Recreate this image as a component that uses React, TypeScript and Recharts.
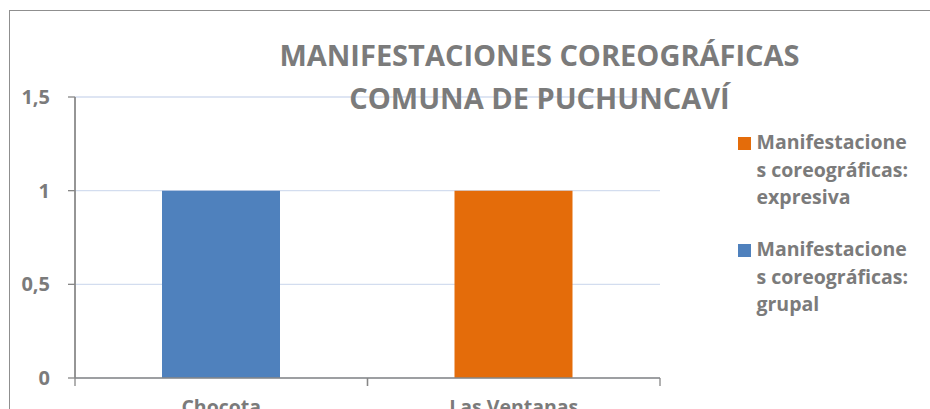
import React from 'react';
import { BarChart, Bar, XAxis, YAxis, CartesianGrid } from 'recharts';

const categories = ['Chocota', 'Las Ventanas'];
const grupal = [1, 0];
const expresiva = [0, 1];
const yTicks = [0, 0.5, 1, 1.5];
const titleLines = ['MANIFESTACIONES COREOGRÁFICAS', 'COMUNA DE PUCHUNCAVÍ'];
const legendItems = [
  { label: ['Manifestacione', 's coreográficas:', 'expresiva'], color: '#e46c0a' },
  { label: ['Manifestacione', 's coreográficas:', 'grupal'], color: '#4f81bd' },
];

const data = categories.map((name, i) => ({
  name,
  grupal: grupal[i],
  expresiva: expresiva[i],
}));

const TEXT = '#7b7b7b';
const AXIS = '#878787';
const FONT = "'Open Sans', sans-serif";

// label in the middle of the band, tick marks on the band edges (Excel style)
const BottomTick = (props: any) => {
  const { x, y, payload, width, visibleTicksCount } = props;
  const half = width / (2 * (visibleTicksCount || categories.length));
  return (
    <g>
      <line x1={x - half} y1={y} x2={x - half} y2={y + 8} stroke={AXIS} strokeWidth={1.3} />
      <line x1={x + half} y1={y} x2={x + half} y2={y + 8} stroke={AXIS} strokeWidth={1.3} />
      <text x={x} y={y + 36} textAnchor="middle" fill={TEXT} fontSize={19.5} fontWeight={700} fontFamily={FONT}>
        {payload.value}
      </text>
    </g>
  );
};

export default function App() {
  return (
    <div
      style={{
        position: 'absolute',
        left: 9,
        top: 10,
        width: 921,
        height: 399,
        overflow: 'hidden',
        borderTop: '1.5px solid #8f8f8f',
        borderLeft: '1.5px solid #8f8f8f',
        background: '#fff',
        fontFamily: FONT,
      }}
    >
      <style>{'html,body{margin:0;overflow:hidden;background:#fff}'}</style>
      <BarChart
        width={921}
        height={440}
        data={data}
        margin={{ top: 86, right: 271, left: 0, bottom: 33 }}
      >
        <CartesianGrid vertical={false} stroke="#d3ddef" strokeWidth={1.3} />
        {/* value axis line on the left edge of the plot */}
        <CartesianGrid
          horizontal={false}
          stroke={AXIS}
          strokeWidth={1.3}
          verticalCoordinatesGenerator={({ offset }: any) => [offset.left]}
        />
        <XAxis
          dataKey="name"
          type="category"
          interval={0}
          tickLine={false}
          tickSize={0}
          tickMargin={0}
          height={40}
          axisLine={{ stroke: AXIS, strokeWidth: 1.3 }}
          tick={<BottomTick />}
        />
        <YAxis
          domain={[0, 1.5]}
          ticks={yTicks}
          interval={0}
          width={65}
          tickSize={7}
          tickMargin={18}
          axisLine={{ stroke: AXIS, strokeWidth: 1.3 }}
          tickLine={{ stroke: AXIS, strokeWidth: 1.3 }}
          tick={{ fill: TEXT, fontSize: 20, fontWeight: 700, fontFamily: FONT }}
          tickFormatter={(v: number) => String(v).replace('.', ',')}
        />
        <Bar dataKey="grupal" stackId="a" fill="#4f81bd" barSize={118} isAnimationActive={false} />
        <Bar dataKey="expresiva" stackId="a" fill="#e46c0a" barSize={118} isAnimationActive={false} />
      </BarChart>
      <div
        style={{
          position: 'absolute',
          left: 229.5,
          top: 21.75,
          width: 600,
          textAlign: 'center',
          color: TEXT,
          fontSize: 29,
          fontWeight: 700,
          lineHeight: '43px',
          whiteSpace: 'nowrap',
        }}
      >
        {titleLines.map((t) => (
          <div key={t}>{t}</div>
        ))}
      </div>
      <div style={{ position: 'absolute', left: 727.5, top: 117.2 }}>
        {legendItems.map((item) => (
          <div key={item.label.join('')} style={{ display: 'flex', marginBottom: 24.5 }}>
            <div style={{ width: 13, height: 13, background: item.color, marginTop: 9.3, marginRight: 6, flexShrink: 0 }} />
            <div style={{ color: TEXT, fontSize: 19.5, fontWeight: 700, lineHeight: '27.5px', whiteSpace: 'nowrap' }}>
              {item.label.map((l) => (
                <div key={l}>{l}</div>
              ))}
            </div>
          </div>
        ))}
      </div>
    </div>
  );
}
